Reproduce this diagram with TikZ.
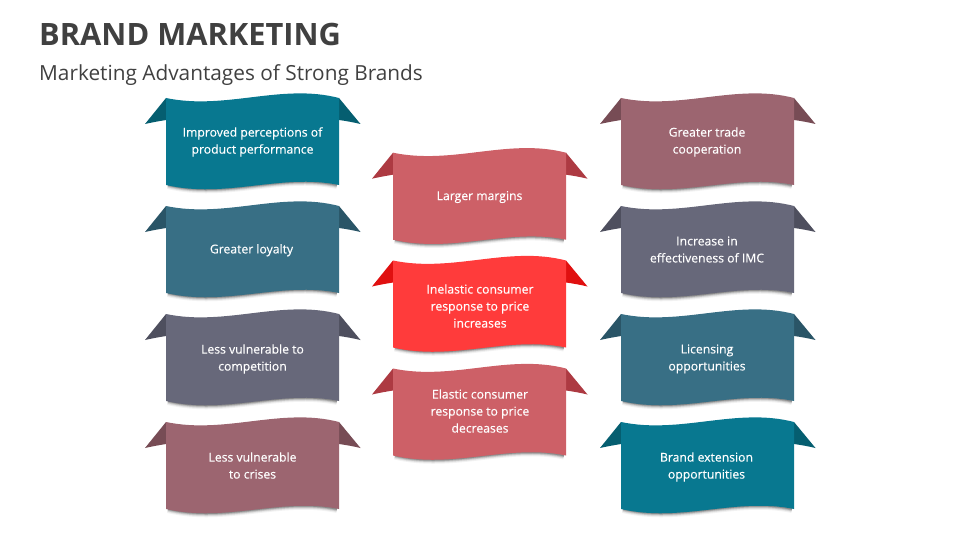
\documentclass[tikz,border=0pt]{standalone}
\usepackage{fontspec}
\setmainfont{Open Sans}
\newfontfamily\ribbonfont[FakeBold=0.25]{Open Sans}
\definecolor{titlegray}{HTML}{404040}
\definecolor{tealA}{HTML}{087890}
\definecolor{tealAw}{HTML}{055E70}
\definecolor{tealB}{HTML}{386F85}
\definecolor{tealBw}{HTML}{2A5567}
\definecolor{slateC}{HTML}{67687A}
\definecolor{slateCw}{HTML}{4E4F5E}
\definecolor{mauveD}{HTML}{9C6570}
\definecolor{mauveDw}{HTML}{774C55}
\definecolor{roseE}{HTML}{CD6067}
\definecolor{roseEw}{HTML}{AD3A42}
\definecolor{redF}{HTML}{FF3B3B}
\definecolor{redFw}{HTML}{E01010}
\tikzset{
  bannertext/.style={text=white,align=center,font=\ribbonfont\fontsize{12.2}{17}\selectfont,inner sep=0pt},
  titletext/.style={text=titlegray,anchor=base west,inner sep=0pt}
}
% #1 name, #2 x, #3 y, #4 fill, #5 wing, #6 text, #7 text position inside the ribbon
\newcommand{\ribbon}[7]{%
  \begin{scope}[shift={(#2,#3)}]
    \foreach \w/\o in {8/.05,6/.07,4.5/.10,3/.14,1.5/.2}
      \draw[black,opacity=\o,line width=\w pt] (2,87) .. controls (60,101) and (115,75) .. (171,87);
    \fill[#5] (0,0) -- (-21,26) .. controls (-12,24) and (-6,23) .. (0,22) -- cycle;
    \fill[#5] (173,0) -- (194.5,26) .. controls (186,24) and (180,23) .. (173,22) -- cycle;
    \fill[#4] (0,0) .. controls (60,12.5) and (115,-15) .. (173,0) -- (173,87) .. controls (115,75) and (60,101) .. (0,87) -- cycle;
    \node[bannertext] (#1) at #7 {#6\strut};
  \end{scope}}
\begin{document}
\begin{tikzpicture}[x=1pt,y=-1pt]
\useasboundingbox (0,0) rectangle (960,540);
\node[titletext,font=\fontsize{30.8}{36}\bfseries\selectfont] (title) at (39,45.5) {BRAND MARKETING};
\node[titletext,font=\fontsize{20.8}{24}\selectfont] (subtitle) at (39,81) {Marketing Advantages of Strong Brands};
\ribbon{l1}{166}{98}{tealA}{tealAw}{Improved perceptions of\\product performance}{(86.5,45)}
\ribbon{l2}{166}{206}{tealB}{tealBw}{Greater loyalty}{(85.5,44)}
\ribbon{l3}{166}{314}{slateC}{slateCw}{Less vulnerable to\\competition}{(86.5,46)}
\ribbon{l4}{166}{422}{mauveD}{mauveDw}{Less vulnerable\\to crises}{(86.5,46)}
\ribbon{m1}{393}{152.7}{roseE}{roseEw}{Larger margins}{(86.5,44)}
\ribbon{m2}{393}{260.5}{redF}{redFw}{Inelastic consumer\\response to price\\increases}{(87,48)}
\ribbon{m3}{393}{368.5}{roseE}{roseEw}{Elastic consumer\\response to price\\decreases}{(87,45)}
\ribbon{r1}{621}{98}{mauveD}{mauveDw}{Greater trade\\cooperation}{(86,45)}
\ribbon{r2}{621}{206}{slateC}{slateCw}{Increase in\\effectiveness of IMC}{(86,46)}
\ribbon{r3}{621}{314}{tealB}{tealBw}{Licensing\\opportunities}{(86,46)}
\ribbon{r4}{621}{422}{tealA}{tealAw}{Brand extension\\opportunities}{(85.5,46)}
\end{tikzpicture}
\end{document}
